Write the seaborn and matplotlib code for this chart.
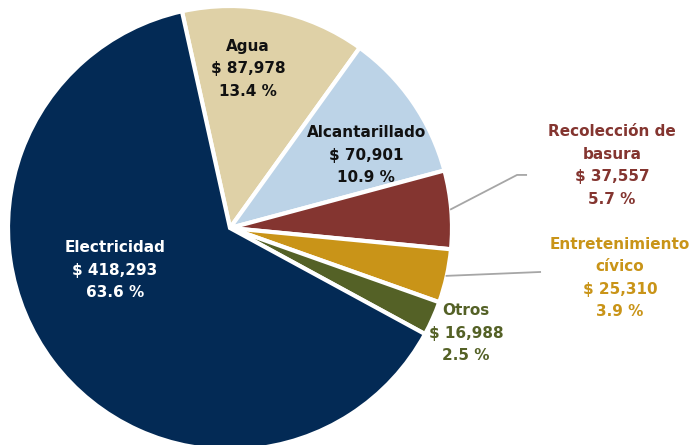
import matplotlib
matplotlib.use("Agg")
import matplotlib.pyplot as plt
import seaborn as sns
import numpy as np

categories = ["Agua", "Alcantarillado", "Recolección de\nbasura", "Entretenimiento\ncívico", "Otros", "Electricidad"]
amounts = [87978, 70901, 37557, 25310, 16988, 418293]
percents = [13.4, 10.9, 5.7, 3.9, 2.5, 63.6]
colors = ["#dfd1a7", "#bcd3e7", "#843530", "#c99418", "#546126", "#032a55"]
text_colors = ["#111111", "#111111", "#843530", "#c99418", "#546126", "#ffffff"]

sns.set_theme(style="white")
plt.rcParams['font.family'] = ['DejaVu Sans']

W, H, DPI = 690, 445, 100
fig = plt.figure(figsize=(W / DPI, H / DPI), dpi=DPI)
ax = fig.add_axes([0, 0, 1, 1])
cx, cy, R = 230, 228, 222

wedges, _ = ax.pie(percents, colors=colors, startangle=102.5, counterclock=False,
                   radius=1.0, wedgeprops=dict(edgecolor="white", linewidth=3),
                   frame=True)
ax.set_xlim(-cx / R, (W - cx) / R)
ax.set_ylim(-(H - cy) / R, cy / R)
ax.set_aspect("auto")
ax.axis("off")

label_pos = [(0.081, 0.717), (0.613, 0.327), (1.721, 0.282), (1.757, -0.226), (1.063, -0.474), (-0.518, -0.190)]
for i, (cat, amt, pct) in enumerate(zip(categories, amounts, percents)):
    txt = f"{cat}\n$ {amt:,}\n{pct:.1f} %"
    ax.text(label_pos[i][0], label_pos[i][1], txt, ha="center", va="center",
            fontsize=11, fontweight="bold", color=text_colors[i], linespacing=1.62)

def edge_point(w, r=1.0):
    ang = np.deg2rad((w.theta1 + w.theta2) / 2)
    return np.cos(ang) * r, np.sin(ang) * r

# leader lines
p = edge_point(wedges[2], 0.995)
ax.plot([p[0], 1.293, 1.338], [p[1], 0.239, 0.239], color="#a6a6a6", lw=1.3, solid_capstyle="butt")
p = edge_point(wedges[3], 0.995)
ax.plot([p[0], 1.401], [p[1], -0.198], color="#a6a6a6", lw=1.3, solid_capstyle="butt")

fig.savefig("out.png", dpi=DPI)
